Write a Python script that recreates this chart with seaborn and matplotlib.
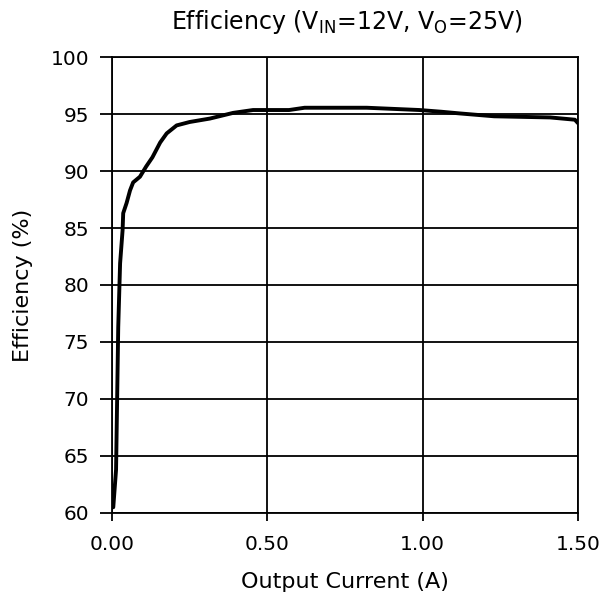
# Efficiency curve, Vin=12V, Vo=25V
import pandas as pd
import matplotlib
matplotlib.use("Agg")
import matplotlib.pyplot as plt
import seaborn as sns

# Values
current = [0.004, 0.013, 0.020, 0.026, 0.034, 0.036, 0.047, 0.058, 0.068, 0.09,
           0.11, 0.13, 0.155, 0.176, 0.208, 0.25, 0.315, 0.39, 0.454, 0.57,
           0.62, 0.82, 0.99, 1.06, 1.12, 1.23, 1.41, 1.49, 1.50]
efficiency = [60.5, 63.8, 76.3, 81.9, 84.8, 86.3, 87.2, 88.3, 89.0, 89.5,
              90.4, 91.2, 92.5, 93.3, 94.0, 94.3, 94.6, 95.1, 95.35, 95.35,
              95.55, 95.55, 95.35, 95.2, 95.05, 94.8, 94.7, 94.5, 94.2]
x_ticks = [0.0, 0.5, 1.0, 1.5]
y_ticks = [60, 65, 70, 75, 80, 85, 90, 95, 100]

df = pd.DataFrame({"Output Current (A)": current, "Efficiency (%)": efficiency})

sns.set_theme(style="ticks")
plt.rcParams['font.family'] = ['DejaVu Sans']
plt.rcParams['mathtext.fontset'] = 'dejavusans'

fig = plt.figure(figsize=(6, 6.04), dpi=100)
ax = fig.add_axes([0.1867, 0.1507, 0.7766, 0.7549])

sns.lineplot(data=df, x="Output Current (A)", y="Efficiency (%)", ax=ax,
             color="black", linewidth=2.8, sort=False)

ax.set_xlim(0, 1.5)
ax.set_ylim(60, 100)
ax.set_xticks(x_ticks)
ax.set_xticklabels([f"{t:.2f}" for t in x_ticks])
ax.set_yticks(y_ticks)
ax.grid(True, color="black", linewidth=1.3)
for s in ax.spines.values():
    s.set_color("black")
    s.set_linewidth(1.3)
ax.tick_params(colors="black", labelsize=14.5, width=1.3)
ax.tick_params(axis="x", length=5.5, pad=10)
ax.tick_params(axis="y", length=8.5, pad=8)

ax.set_xlabel("Output Current (A)", fontsize=16, color="black")
ax.set_ylabel("Efficiency (%)", fontsize=16, color="black")
ax.xaxis.set_label_coords(0.5, -0.13)
ax.yaxis.set_label_coords(-0.17, 0.5)
fig.text(0.578, 0.952, r"Efficiency (V$_{\mathrm{IN}}$=12V, V$_{\mathrm{O}}$=25V)",
         fontsize=17, color="black", ha="center", va="baseline")

plt.savefig("out.png", dpi=100)
plt.close()
